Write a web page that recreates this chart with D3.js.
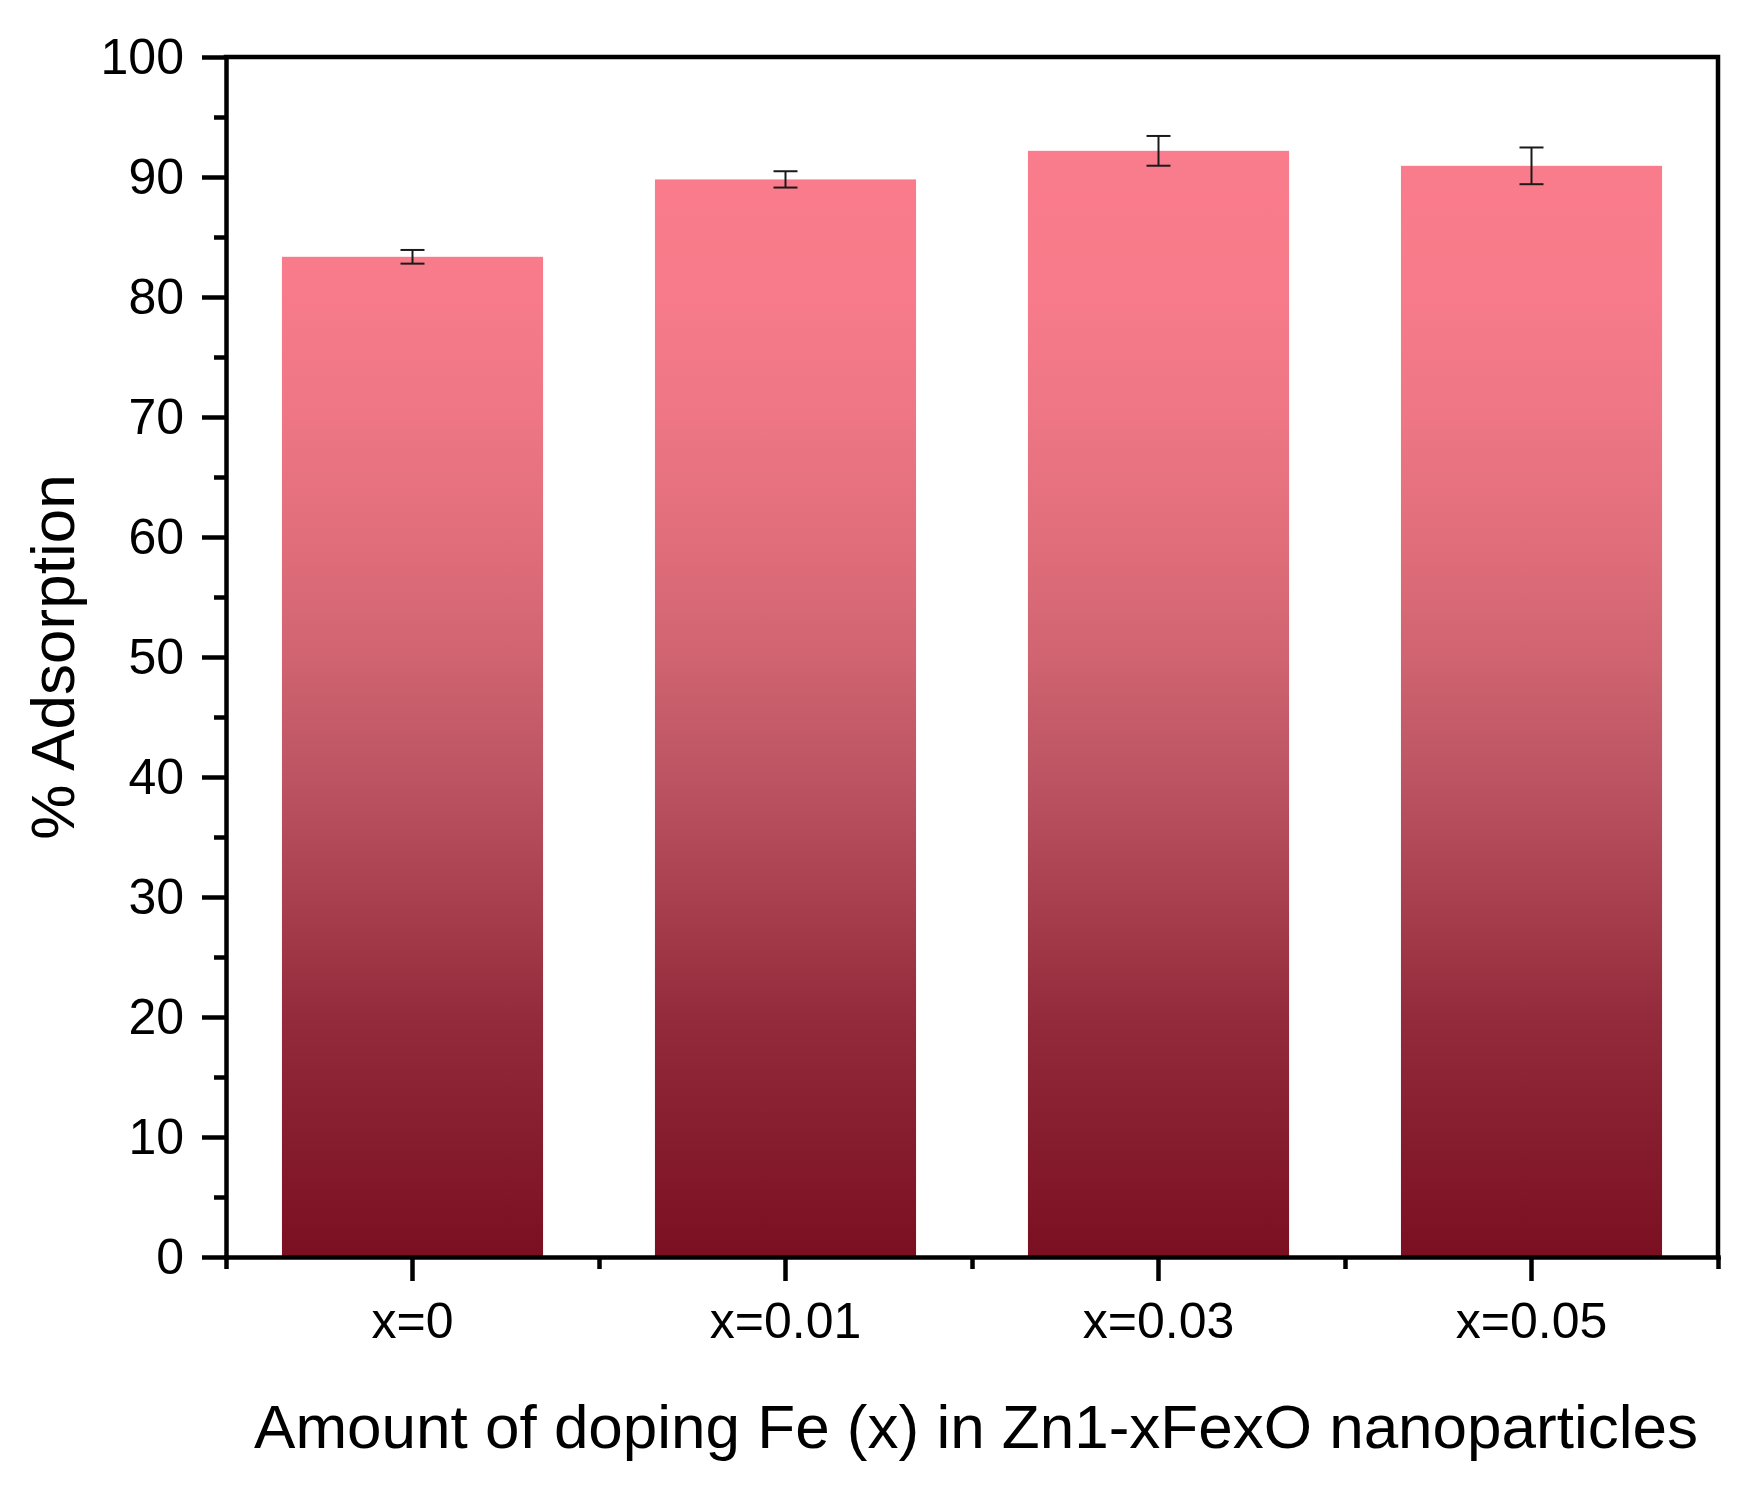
<!DOCTYPE html>
<html>
<head>
<meta charset="utf-8">
<script src="https://cdn.jsdelivr.net/npm/d3@7"></script>
<style>
  html, body { margin: 0; padding: 0; background: #fff; }
  svg text { font-family: "Liberation Sans", Arial, sans-serif; fill: #000; }
</style>
</head>
<body>
<svg id="chart" width="1763" height="1493"></svg>
<script>
// data
var categories = ["x=0", "x=0.01", "x=0.03", "x=0.05"];
var adsorption = [83.35, 89.8, 92.18, 90.93];
var errors = [0.57, 0.68, 1.24, 1.53];
var yTicks = [0, 10, 20, 30, 40, 50, 60, 70, 80, 90, 100];
var yMinorTicks = [5, 15, 25, 35, 45, 55, 65, 75, 85, 95];

var margin = {top: 57, right: 45, bottom: 236, left: 226};
var width = 1763 - margin.left - margin.right;
var height = 1493 - margin.top - margin.bottom;
var AXIS_W = 4.5;

var svg = d3.select("#chart");

// gradient runs along the y axis, same tone at same height for every bar
var defs = svg.append("defs");
var grad = defs.append("linearGradient")
    .attr("id", "barFill")
    .attr("gradientUnits", "userSpaceOnUse")
    .attr("x1", 0).attr("x2", 0)
    .attr("y1", height).attr("y2", 0);
[
    [0, "#7a0f22"],
    [0.1, "#861d2e"],
    [0.2, "#942b3c"],
    [0.3, "#a8404f"],
    [0.4, "#bc5463"],
    [0.5, "#d06470"],
    [0.6, "#e16e7b"],
    [0.7, "#ee7685"],
    [0.8, "#f77b8a"],
    [1, "#fc7d8e"]
].forEach(function (s) {
    grad.append("stop").attr("offset", s[0]).attr("stop-color", s[1]);
});

var g = svg.append("g")
    .attr("transform", "translate(" + margin.left + "," + margin.top + ")");

var x = d3.scaleBand()
    .domain(categories)
    .range([0, width])
    .paddingInner(0.3)
    .paddingOuter(0.15);

var y = d3.scaleLinear()
    .domain([0, 100])
    .range([height, 0]);

var rows = categories.map(function (c, i) {
    return {cat: c, value: adsorption[i], err: errors[i]};
});

// bars
g.append("g").attr("class", "bars")
    .selectAll("rect")
    .data(rows)
    .enter().append("rect")
    .attr("x", function (d) { return x(d.cat); })
    .attr("y", function (d) { return y(d.value); })
    .attr("width", x.bandwidth())
    .attr("height", function (d) { return height - y(d.value); })
    .attr("fill", "url(#barFill)");

// error bars
var capHalf = 12;
var eb = g.append("g").attr("class", "errorbars")
    .attr("stroke", "#1a1a1a")
    .attr("stroke-width", 2)
    .attr("fill", "none");
rows.forEach(function (d) {
    var cx = x(d.cat) + x.bandwidth() / 2;
    var hi = y(d.value + d.err);
    var lo = y(d.value - d.err);
    eb.append("line").attr("x1", cx).attr("x2", cx).attr("y1", hi).attr("y2", lo);
    eb.append("line").attr("x1", cx - capHalf).attr("x2", cx + capHalf).attr("y1", hi).attr("y2", hi);
    eb.append("line").attr("x1", cx - capHalf).attr("x2", cx + capHalf).attr("y1", lo).attr("y2", lo);
});

// frame: top and right edges
g.append("path")
    .attr("d", "M0,0H" + width + "V" + height)
    .attr("fill", "none")
    .attr("stroke", "#000")
    .attr("stroke-width", AXIS_W)
    .attr("stroke-linecap", "square");

// y axis
var yMinor = g.append("g")
    .call(d3.axisLeft(y).tickValues(yMinorTicks).tickSize(12).tickFormat(""));
var yAxis = g.append("g")
    .call(d3.axisLeft(y).tickValues(yTicks).tickSize(24).tickPadding(18).tickSizeOuter(0));
[yMinor, yAxis].forEach(function (a) {
    a.selectAll("path").attr("stroke-width", AXIS_W);
    a.selectAll("line").attr("stroke-width", AXIS_W);
});
yMinor.select(".domain").remove();
yAxis.selectAll("text")
    .style("font-size", "50px")
    .attr("font-family", null);

// x axis: major ticks on the bar centres, minor ones at the band edges
var bandEdges = categories.map(function (c) { return x(c) - x.step() * x.paddingInner() / 2; })
    .concat([width]);
var xMinorScale = d3.scaleLinear().domain([0, width]).range([0, width]);
var xMinor = g.append("g")
    .attr("transform", "translate(0," + height + ")")
    .call(d3.axisBottom(xMinorScale).tickValues(bandEdges).tickSize(12).tickFormat(""));
xMinor.select(".domain").remove();
var xAxis = g.append("g")
    .attr("transform", "translate(0," + height + ")")
    .call(d3.axisBottom(x).tickSize(24).tickPadding(21).tickSizeOuter(0));
[xMinor, xAxis].forEach(function (a) {
    a.selectAll("path").attr("stroke-width", AXIS_W).attr("stroke-linecap", "square");
    a.selectAll("line").attr("stroke-width", AXIS_W);
});
xAxis.selectAll("text")
    .style("font-size", "50px")
    .attr("font-family", null);
yAxis.select(".domain").attr("stroke-linecap", "square");

// axis titles
svg.append("text")
    .attr("x", margin.left + width / 2 + 4)
    .attr("y", 1448)
    .attr("text-anchor", "middle")
    .style("font-size", "62px")
    .text("Amount of doping Fe (x) in Zn1-xFexO nanoparticles");

svg.append("text")
    .attr("transform", "translate(74," + (margin.top + height / 2) + ") rotate(-90)")
    .attr("text-anchor", "middle")
    .style("font-size", "62px")
    .text("% Adsorption");
</script>
</body>
</html>
